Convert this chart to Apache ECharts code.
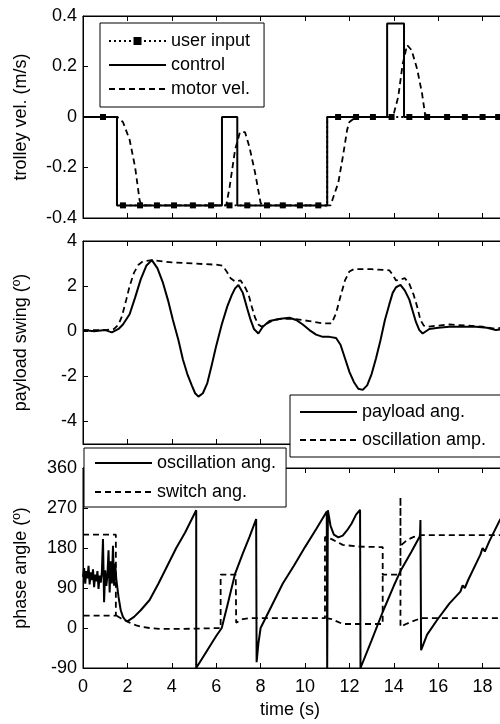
<!DOCTYPE html>
<html>
<head>
<meta charset="utf-8">
<script src="https://cdn.jsdelivr.net/npm/echarts/dist/echarts.min.js"></script>
<style>
html, body { margin: 0; padding: 0; background: #fff; }
#myChart { width: 500px; height: 724px; }
</style>
</head>
<body>
<div id="myChart"></div>
<script>
// trolley velocity (m/s)
var userStep = [[0, 0], [1.53, 0], [1.53, -0.35], [11.0, -0.35], [11.0, 0], [20, 0]];
var userMarkT = [0.9, 1.8, 2.57, 3.33, 4.1, 4.95, 5.77, 6.6, 7.4, 8.29, 9.0, 9.77, 10.6, 11.49, 12.3, 13.06, 13.9, 14.7, 15.5, 16.4, 17.2, 18.0, 18.7, 19.5];
var userMarkV = [0, -0.35, -0.35, -0.35, -0.35, -0.35, -0.35, -0.35, -0.35, -0.35, -0.35, -0.35, -0.35, 0, 0, 0, 0, 0, 0, 0, 0, 0, 0, 0];
var controlPts = [[0, 0], [1.53, 0], [1.53, -0.35], [6.26, -0.35], [6.26, 0], [6.95, 0], [6.95, -0.35], [11.0, -0.35], [11.0, 0], [13.7, 0], [13.7, 0.37], [14.46, 0.37], [14.46, 0], [20, 0]];
var motorPts = [[0, 0], [1.55, 0], [1.8, -0.02], [2.1, -0.09], [2.35, -0.2], [2.55, -0.33], [2.65, -0.35], [6.45, -0.35], [6.6, -0.28], [6.85, -0.13], [7.07, -0.06], [7.3, -0.06], [7.5, -0.12], [7.75, -0.22], [8.0, -0.34], [8.1, -0.35], [11.15, -0.35], [11.5, -0.26], [11.7, -0.16], [11.9, -0.05], [12.0, -0.02], [12.3, 0], [13.96, 0], [14.2, 0.08], [14.4, 0.21], [14.6, 0.285], [14.8, 0.265], [15.05, 0.19], [15.27, 0.095], [15.4, 0.015], [15.5, 0], [20, 0]];

// payload swing (deg)
var payloadPts = [[0, 0.05], [0.5, 0.0], [1.0, 0.05], [1.3, -0.05], [1.6, 0.1], [1.8, 0.3], [2.1, 0.75], [2.35, 1.5], [2.6, 2.3], [2.85, 2.9], [3.1, 3.15], [3.35, 2.8], [3.6, 2.15], [3.85, 1.3], [4.05, 0.5], [4.3, -0.4], [4.5, -1.25], [4.7, -1.9], [4.9, -2.4], [5.05, -2.75], [5.2, -2.9], [5.4, -2.75], [5.6, -2.3], [5.8, -1.5], [6.0, -0.65], [6.25, 0.3], [6.5, 1.1], [6.7, 1.6], [6.85, 1.9], [7.0, 2.05], [7.2, 1.7], [7.4, 1.0], [7.55, 0.5], [7.7, 0.1], [7.9, -0.1], [8.1, 0.2], [8.4, 0.45], [8.9, 0.55], [9.3, 0.6], [9.6, 0.5], [9.9, 0.3], [10.2, 0.05], [10.5, -0.15], [10.8, -0.25], [11.1, -0.25], [11.4, -0.3], [11.6, -0.6], [11.8, -1.2], [12.0, -1.8], [12.2, -2.25], [12.4, -2.55], [12.6, -2.6], [12.8, -2.4], [13.0, -1.9], [13.2, -1.2], [13.4, -0.4], [13.6, 0.5], [13.8, 1.2], [13.95, 1.7], [14.1, 1.95], [14.3, 2.05], [14.5, 1.8], [14.7, 1.4], [14.85, 0.9], [15.0, 0.4], [15.15, 0.05], [15.3, -0.1], [15.6, 0.1], [16.0, 0.15], [16.5, 0.2], [17.0, 0.2], [17.7, 0.2], [18.2, 0.15], [18.6, 0.05], [19.0, 0.1], [20, 0.1]];
var ampPts = [[0, 0.05], [1.0, 0.05], [1.4, 0.1], [1.6, 0.3], [1.75, 0.65], [1.95, 1.4], [2.1, 2.0], [2.3, 2.6], [2.5, 2.95], [2.7, 3.1], [3.1, 3.15], [4.0, 3.05], [5.0, 3.0], [6.0, 2.95], [6.3, 2.9], [6.5, 2.6], [6.65, 2.35], [6.85, 2.2], [7.1, 2.25], [7.3, 1.95], [7.45, 1.65], [7.6, 1.1], [7.75, 0.6], [7.9, 0.3], [8.05, 0.2], [8.3, 0.35], [8.6, 0.5], [9.0, 0.55], [9.5, 0.55], [10.2, 0.45], [10.8, 0.35], [11.2, 0.35], [11.4, 0.8], [11.6, 1.55], [11.8, 2.25], [12.0, 2.65], [12.2, 2.75], [13.0, 2.75], [13.8, 2.7], [13.95, 2.5], [14.1, 2.25], [14.3, 2.3], [14.5, 2.35], [14.7, 2.1], [14.9, 1.6], [15.05, 1.1], [15.2, 0.5], [15.35, 0.25], [15.5, 0.2], [16.0, 0.25], [16.5, 0.3], [17.3, 0.25], [18.0, 0.2], [18.6, 0.1], [19.0, 0.2], [20, 0.2]];

// phase angle (deg)
var oscPts = [[0, 115], [0.05, 135], [0.1, 100], [0.15, 128], [0.2, 112], [0.25, 140], [0.3, 98], [0.35, 125], [0.4, 108], [0.45, 132], [0.5, 92], [0.55, 120], [0.6, 105], [0.65, 128], [0.7, 88], [0.75, 118], [0.8, 102], [0.85, 125], [0.9, 200], [0.95, 58], [1.0, 130], [1.05, 95], [1.1, 118], [1.15, 175], [1.2, 80], [1.25, 150], [1.3, 100], [1.35, 185], [1.4, 95], [1.45, 145], [1.5, 110], [1.55, 90], [1.6, 70], [1.7, 40], [1.8, 25], [1.9, 18], [2.0, 15], [2.3, 25], [2.6, 40], [3.0, 63], [3.4, 100], [3.8, 140], [4.2, 180], [4.6, 215], [5.1, 265], [5.1, -90], [5.6, -50], [6.0, -18], [6.25, 0], [6.55, 60], [6.85, 122], [7.2, 168], [7.5, 205], [7.8, 245], [7.82, -77], [7.9, -35], [8.0, 0], [8.5, 50], [9.0, 100], [9.5, 140], [10.0, 182], [10.5, 222], [10.98, 262], [11.0, -90], [11.03, 265], [11.15, 230], [11.3, 210], [11.5, 204], [11.7, 208], [11.9, 220], [12.1, 235], [12.3, 255], [12.48, 266], [12.5, -90], [13.0, -28], [13.5, 36], [14.0, 95], [14.3, 128], [14.8, 172], [15.18, 207], [15.2, 243], [15.23, -50], [15.5, -15], [15.95, 18], [16.5, 55], [17.0, 82], [17.1, 96], [17.2, 90], [17.35, 108], [17.9, 165], [18.0, 180], [18.1, 172], [18.3, 195], [18.78, 243], [19.2, 275], [20, 340]];
var switchPts = [[0, 210], [1.48, 210], [1.48, 28], [0, 28], [0, '-'],
  [1.5, 28], [1.7, 22], [1.9, 17], [2.1, 12], [2.4, 6], [2.7, 2], [3.0, 0], [3.5, -2], [4.5, -2], [5.5, -1], [6.2, 0], [6.2, 120], [6.88, 120], [6.9, 12], [7.2, 20], [7.5, 22], [10.9, 22], [10.9, 205], [11.2, 200], [11.7, 187], [12.5, 183], [13.5, 182], [13.5, 120], [14.3, 120], [14.3, 295], [14.3, 3], [14.6, 10], [15.0, 18], [15.3, 22], [20, 22], [20, '-'],
  [10.95, 22], [11.2, 20], [11.7, 9], [13.5, 9], [13.5, 120], [13.5, '-'],
  [14.35, 187], [14.6, 198], [14.9, 205], [15.2, 209], [20, 209]];

var swingTicks = [-4, -2, 0, 2, 4];

var FONT = '"Liberation Sans", Arial, sans-serif';

// user input: walk the step corners (no symbol) and slot the marker points in between
var userData = [];
var m = 0;
for (var s = 0; s < userStep.length; s++) {
  while (m < userMarkT.length && userMarkT[m] < userStep[s][0]) {
    userData.push({ value: [userMarkT[m], userMarkV[m]] });
    m++;
  }
  userData.push({ value: userStep[s], symbol: 'none' });
}

// plot area runs past the right edge of the picture (x = 20 s is cut off)
var grids = [
  { left: 83, width: 444, top: 16, height: 202 },
  { left: 83, width: 444, top: 241, height: 203 },
  { left: 83, width: 444, top: 468, height: 200 }
];
grids.forEach(function (g) {
  g.show = true; g.borderColor = '#000'; g.borderWidth = 1; g.backgroundColor = 'transparent';
  g.containLabel = false; g.outerBoundsMode = 'none';
});

var tick = { show: true, inside: true, length: 5, lineStyle: { color: '#000', width: 1 } };
function xAx(gi, pos, labels) {
  return {
    type: 'value', gridIndex: gi, position: pos, min: 0, max: 20, interval: 2,
    axisLine: { show: true, onZero: false, lineStyle: { color: '#000', width: 1 } },
    axisTick: tick, splitLine: { show: false },
    axisLabel: { show: labels, color: '#000', fontSize: 18, fontFamily: FONT, margin: 10 },
    name: labels ? 'time (s)' : '', nameLocation: 'middle', nameGap: 33,
    nameTextStyle: { color: '#000', fontSize: 18, fontFamily: FONT, padding: [0, 30, 0, 0] }
  };
}
function yAx(gi, name, min, max, interval, custom) {
  var ax = {
    type: 'value', gridIndex: gi, min: min, max: max, interval: interval,
    axisLine: { show: true, onZero: false, lineStyle: { color: '#000', width: 1 } },
    axisTick: Object.assign({}, tick), splitLine: { show: false },
    axisLabel: { color: '#000', fontSize: 18, fontFamily: FONT, margin: 6 },
    name: name, nameLocation: 'middle', nameGap: 53,
    nameTextStyle: { color: '#000', fontSize: 18, fontFamily: FONT }
  };
  if (custom) {
    ax.axisLabel.customValues = custom;
    ax.axisTick.customValues = custom;
  }
  return ax;
}

function lineSeries(name, data, xi, yi, type, width) {
  return {
    name: name, type: 'line', data: data, xAxisIndex: xi, yAxisIndex: yi,
    symbol: 'none', showSymbol: false, connectNulls: false,
    lineStyle: { color: '#000', width: width, type: type },
    itemStyle: { color: '#000' }, z: 3
  };
}

function legendBox(items, left, top, pad) {
  return {
    data: items, left: left, top: top, orient: 'vertical', selectedMode: false,
    itemWidth: 57, itemHeight: 10, itemGap: pad.gap, padding: pad.p,
    borderColor: '#000', borderWidth: 1, backgroundColor: '#fff', borderRadius: 0,
    itemStyle: { opacity: 0 },
    textStyle: { color: '#000', fontSize: 18, lineHeight: 18, fontFamily: FONT },
    z: 10
  };
}

var userSeries = lineSeries('user input', userData, 0, 0, [2, 3], 1.8);
userSeries.symbol = 'rect';
userSeries.symbolSize = 6;
userSeries.showSymbol = true;
userSeries.z = 4;

var option = {
  animation: false,
  backgroundColor: '#fff',
  textStyle: { fontFamily: FONT },
  grid: grids,
  xAxis: [xAx(0, 'bottom', false), xAx(0, 'top', false), xAx(1, 'bottom', false), xAx(1, 'top', false), xAx(2, 'bottom', true), xAx(2, 'top', false)],
  yAxis: [
    yAx(0, 'trolley vel. (m/s)', -0.4, 0.4, 0.2),
    yAx(1, 'payload swing (º)', -5, 4, 1, swingTicks),
    yAx(2, 'phase angle (º)', -90, 360, 90)
  ],
  legend: [
    legendBox([{ name: 'user input', itemStyle: { opacity: 1, color: '#000' } }, 'control', 'motor vel.'], 100, 23, { gap: 6, p: [9, 14, 9, 8] }),
    legendBox(['payload ang.', 'oscillation amp.'], 290, 395, { gap: 10, p: [8, 80, 8, 9] }),
    legendBox(['oscillation ang.', 'switch ang.'], 84, 448, { gap: 11, p: [6, 10, 6, 10] })
  ],
  series: [
    lineSeries('control', controlPts, 0, 0, 'solid', 2),
    lineSeries('motor vel.', motorPts, 0, 0, [6, 4], 1.8),
    userSeries,
    lineSeries('payload ang.', payloadPts, 2, 1, 'solid', 2),
    lineSeries('oscillation amp.', ampPts, 2, 1, [6, 4], 1.8),
    lineSeries('switch ang.', switchPts, 4, 2, [6, 4], 1.8),
    lineSeries('oscillation ang.', oscPts, 4, 2, 'solid', 2)
  ]
};

var myChart = echarts.init(document.getElementById('myChart'));
myChart.setOption(option);
</script>
</body>
</html>
